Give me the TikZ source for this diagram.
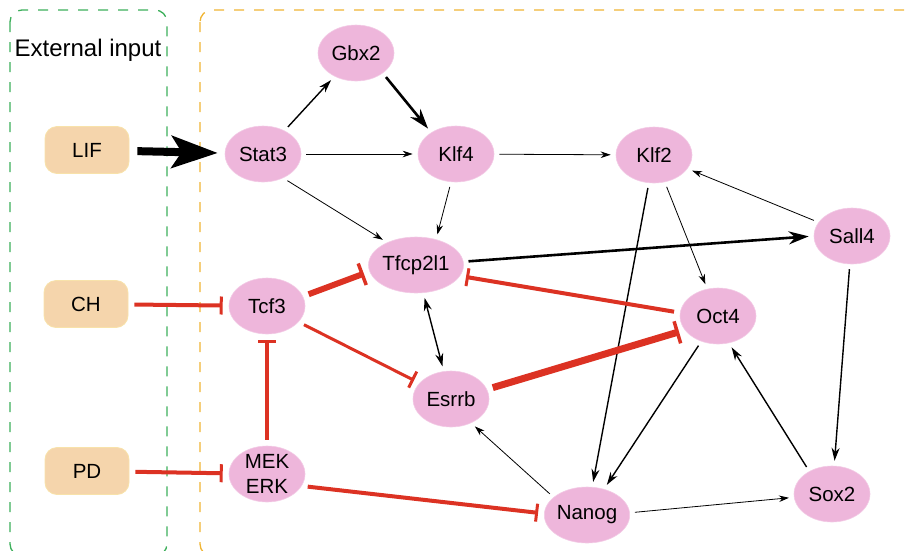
\documentclass[tikz,border=0pt]{standalone}
\usepackage{fontspec}
\setmainfont{Liberation Sans}
\usetikzlibrary{shapes.geometric, arrows.meta, positioning}
\definecolor{genepink}{RGB}{238,182,219}
\definecolor{peach}{RGB}{245,213,172}
\definecolor{peachedge}{RGB}{248,226,170}
\definecolor{inhred}{RGB}{220,50,35}
\definecolor{extgreen}{RGB}{60,175,90}
\definecolor{netorange}{RGB}{240,180,50}

\begin{document}
\begin{tikzpicture}[
    x=1pt, y=-1pt,
    gene/.style={ellipse, fill=genepink, draw=genepink!70!white, line width=0.6pt, minimum width=76pt, minimum height=56pt, inner sep=0pt, align=center, font=\fontsize{20.5}{25}\selectfont},
    input/.style={rectangle, rounded corners=12pt, fill=peach, draw=peachedge, line width=0.8pt, minimum width=84pt, minimum height=47pt, font=\fontsize{20.5}{25}\selectfont},
    region/.style={rounded corners=12pt, line width=1.3pt, dash pattern=on 10pt off 10pt},
    act/.style={-{Stealth[length=10pt, width=6.5pt]}, line width=0.8pt, shorten <=5pt, shorten >=5pt},
    actmid/.style={-{Stealth[length=13pt, width=8pt]}, line width=1.4pt, shorten <=5pt, shorten >=5pt},
    actthick/.style={-{Stealth[length=20pt, width=13pt]}, line width=2.6pt, shorten <=5pt, shorten >=5pt},
    inh/.style={-{Bar[width=18pt, line width=3pt]}, draw=inhred, line width=4pt, shorten <=6pt, shorten >=6pt}
]
\useasboundingbox (0,0) rectangle (906,550);

% Regions
\draw[region, extgreen] (10,10) rectangle (167,556);
\draw[region, netorange] (200,10) rectangle (930,556);
\node[font=\fontsize{24}{28}\selectfont] (extlabel) at (88,50) {External input};

% Inputs
\node[input] (LIF) at (87,150) {LIF};
\node[input] (CH) at (86,304) {CH};
\node[input] (PD) at (87,471) {PD};

% Genes
\node[gene] (Stat3) at (263,154) {Stat3};
\node[gene] (Gbx2) at (356,53) {Gbx2};
\node[gene] (Klf4) at (456,154) {Klf4};
\node[gene] (Klf2) at (654,155) {Klf2};
\node[gene] (Tfcp2l1) at (416,265) {Tfcp2l1};
\node[gene] (Sall4) at (852,236) {Sall4};
\node[gene] (Tcf3) at (267,306) {Tcf3};
\node[gene] (Oct4) at (718,316) {Oct4};
\node[gene] (Esrrb) at (451,399) {Esrrb};
\node[gene] (MEK) at (267,474) {MEK\\ERK};
\node[gene] (Nanog) at (587,515) {Nanog};
\node[gene] (Sox2) at (832,494) {Sox2};

% Activation
\draw[-{Stealth[length=46pt, width=32pt, inset=10pt]}, line width=8pt, shorten <=8pt, shorten >=7pt] (LIF) -- (Stat3);
\draw[actmid] (Stat3) -- (Gbx2);
\draw[actthick] (Gbx2.-37) -- (Klf4.139);
\draw[act] (Stat3) -- (Klf4);
\draw[act] (Klf4) -- (Klf2);
\draw[act] (Stat3.-50) -- (Tfcp2l1.142);
\draw[act] (Klf4.-100) -- (Tfcp2l1.52);
\draw[actthick] (Tfcp2l1.4) -- (Sall4.west);
\draw[act] (Sall4) -- (Klf2);
\draw[act] (Klf2) -- (Oct4);
\draw[actmid] (Klf2) -- (Nanog);
\draw[actmid] (Sall4) -- (Sox2);
\draw[actmid, {Stealth[length=13pt, width=8pt]}-{Stealth[length=13pt, width=8pt]}] (Tfcp2l1) -- (Esrrb);
\draw[actmid] (Oct4) -- (Nanog);
\draw[actmid] (Sox2.135) -- (Oct4.-68);
\draw[act] (Nanog.152) -- (Esrrb.-50);
\draw[act] (Nanog.3) -- (Sox2.185);

% Inhibition
\draw[inh] (CH) -- (Tcf3);
\draw[inh] (PD) -- (MEK);
\draw[inh, line width=4.5pt] (MEK) -- (Tcf3);
\draw[inh] (MEK.-19) -- (Nanog.178);
\draw[inh, line width=3pt] (Tcf3) -- (Esrrb);
\draw[inh, line width=6pt, -{Bar[width=23pt, line width=3.5pt]}] (Tcf3.15) -- (Tfcp2l1.188);
\draw[inh] (Oct4.175) -- (Tfcp2l1.-14);
\draw[inh, line width=7pt, -{Bar[width=23pt, line width=3.5pt]}] (Esrrb.15) -- (Oct4.203);

\end{tikzpicture}
\end{document}
